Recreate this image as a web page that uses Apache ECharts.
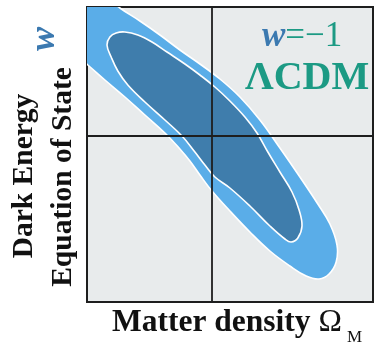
<!DOCTYPE html>
<html>
<head>
<meta charset="utf-8">
<style>
  html, body { margin: 0; padding: 0; background: #ffffff; }
  #chart { width: 374px; height: 343px; }
</style>
<script src="https://cdn.jsdelivr.net/npm/echarts/dist/echarts.min.js"></script>
</head>
<body>
<div id="chart"></div>
<script>
// Parameter space: matter density Omega_M (x) vs dark-energy equation of state w (y)
const omegaRange = [0, 0.6864];
const wRange = [-2.0, -0.23];

// Reference model (LCDM): Omega_M = 0.3, w = -1
const lcdmOmega = 0.3;
const lcdmW = -1;

// 95% confidence contour outline (Omega_M, w)
const outerOmega = [-0.029, 0.031, 0.079, 0.127, 0.175, 0.223, 0.271, 0.319, 0.367, 0.415,
  0.463, 0.511, 0.554, 0.583, 0.600, 0.598, 0.581, 0.557, 0.526, 0.487,
  0.439, 0.391, 0.343, 0.300, 0.271, 0.247, 0.223, 0.187, 0.139, 0.091,
  0.043, 0.002, -0.041, -0.077, -0.077];
const outerW = [-0.038, -0.140, -0.236, -0.314, -0.398, -0.488, -0.572, -0.662, -0.770, -0.908,
  -1.076, -1.250, -1.412, -1.532, -1.658, -1.760, -1.832, -1.862, -1.844, -1.784,
  -1.694, -1.580, -1.454, -1.334, -1.238, -1.154, -1.082, -0.986, -0.878, -0.770,
  -0.668, -0.578, -0.488, -0.308, -0.128];

// 68% confidence contour outline (Omega_M, w)
const innerOmega = [0.048, 0.055, 0.070, 0.091, 0.122, 0.156, 0.192, 0.235, 0.271, 0.307,
  0.343, 0.379, 0.408, 0.434, 0.463, 0.492, 0.509, 0.516, 0.506, 0.490,
  0.475, 0.439, 0.391, 0.343, 0.307, 0.283, 0.259, 0.228, 0.187, 0.139,
  0.098, 0.074, 0.058];
const innerW = [-0.458, -0.410, -0.386, -0.380, -0.398, -0.440, -0.500, -0.572, -0.638, -0.710,
  -0.794, -0.890, -0.986, -1.100, -1.220, -1.340, -1.448, -1.544, -1.616, -1.640,
  -1.622, -1.544, -1.424, -1.316, -1.250, -1.178, -1.100, -1.004, -0.908, -0.800,
  -0.698, -0.614, -0.530];

const serif = '"Liberation Serif", "DejaVu Serif", serif';

function zipPoints(xs, ys) {
  return xs.map((x, i) => [x, ys[i]]);
}

// A filled, smoothed closed region drawn through the axes' own coordinate system
function contourSeries(name, xs, ys, fill, z) {
  const pts = zipPoints(xs, ys);
  return {
    name: name,
    type: 'custom',
    coordinateSystem: 'cartesian2d',
    clip: true,
    z: z,
    silent: true,
    data: pts,
    renderItem: function (params, api) {
      if (params.dataIndex !== 0) return null;
      const shapePts = pts.map(p => api.coord(p));
      return {
        type: 'polygon',
        shape: { points: shapePts, smooth: 0.4 },
        style: { fill: fill, stroke: '#ffffff', lineWidth: 1.6 }
      };
    }
  };
}

const chart = echarts.init(document.getElementById('chart'), null, { renderer: 'canvas' });

chart.setOption({
  animation: false,
  backgroundColor: '#ffffff',
  grid: {
    left: 87, top: 7, width: 286, height: 295,
    show: true,
    backgroundColor: '#e8ebec',
    borderColor: '#1e1e1e',
    borderWidth: 2
  },
  xAxis: {
    type: 'value', min: omegaRange[0], max: omegaRange[1],
    axisLine: { show: false }, axisTick: { show: false },
    axisLabel: { show: false }, splitLine: { show: false }
  },
  yAxis: {
    type: 'value', min: wRange[0], max: wRange[1],
    axisLine: { show: false }, axisTick: { show: false },
    axisLabel: { show: false }, splitLine: { show: false }
  },
  series: [
    contourSeries('95%', outerOmega, outerW, '#5aade8', 2),
    contourSeries('68%', innerOmega, innerW, '#3f7dac', 3),
    {
      name: 'LCDM',
      type: 'line',
      data: [],
      z: 6,
      markLine: {
        silent: true,
        symbol: ['none', 'none'],
        label: { show: false },
        lineStyle: { color: '#1e1e1e', width: 1.8, type: 'solid' },
        data: [{ xAxis: lcdmOmega }, { yAxis: lcdmW }]
      }
    }
  ],
  graphic: [
    {
      type: 'text', x: 262, y: 37, z: 10,
      style: {
        text: '{w|w}{e|=−1}',
        verticalAlign: 'middle', align: 'left',
        rich: {
          w: { fontFamily: serif, fontSize: 35, fontWeight: 'bold', fontStyle: 'italic', fill: '#3b79b0' },
          e: { fontFamily: serif, fontSize: 35, fill: '#1c9a84' }
        }
      }
    },
    {
      type: 'text', x: 245, y: 79, z: 10,
      style: {
        text: 'ΛCDM', fontFamily: serif, fontSize: 40, fontWeight: 'bold',
        fill: '#1c9a84', verticalAlign: 'middle', align: 'left'
      }
    },
    {
      type: 'text', x: 24, y: 176, rotation: Math.PI / 2, z: 10,
      style: {
        text: 'Dark Energy', fontFamily: serif, fontSize: 29.5, fontWeight: 'bold',
        fill: '#111111', align: 'center', verticalAlign: 'middle'
      }
    },
    {
      type: 'text', x: 63, y: 177, rotation: Math.PI / 2, z: 10,
      style: {
        text: 'Equation of State', fontFamily: serif, fontSize: 29.5, fontWeight: 'bold',
        fill: '#111111', align: 'center', verticalAlign: 'middle'
      }
    },
    {
      type: 'text', x: 45, y: 39, rotation: Math.PI / 2, z: 10,
      style: {
        text: 'w', fontFamily: serif, fontSize: 36, fontWeight: 'bold', fontStyle: 'italic',
        fill: '#3b79b0', align: 'center', verticalAlign: 'middle'
      }
    },
    {
      type: 'text', x: 112, y: 323, z: 10,
      style: {
        text: '{b|Matter density }{o|Ω}',
        align: 'left', verticalAlign: 'middle',
        rich: {
          b: { fontFamily: serif, fontSize: 31.5, fontWeight: 'bold', fill: '#111111' },
          o: { fontFamily: serif, fontSize: 31.5, fill: '#111111' }
        }
      }
    },
    {
      type: 'text', x: 347, y: 338, z: 10,
      style: {
        text: 'M', fontFamily: serif, fontSize: 17,
        fill: '#111111', align: 'left', verticalAlign: 'middle'
      }
    }
  ]
});
</script>
</body>
</html>
